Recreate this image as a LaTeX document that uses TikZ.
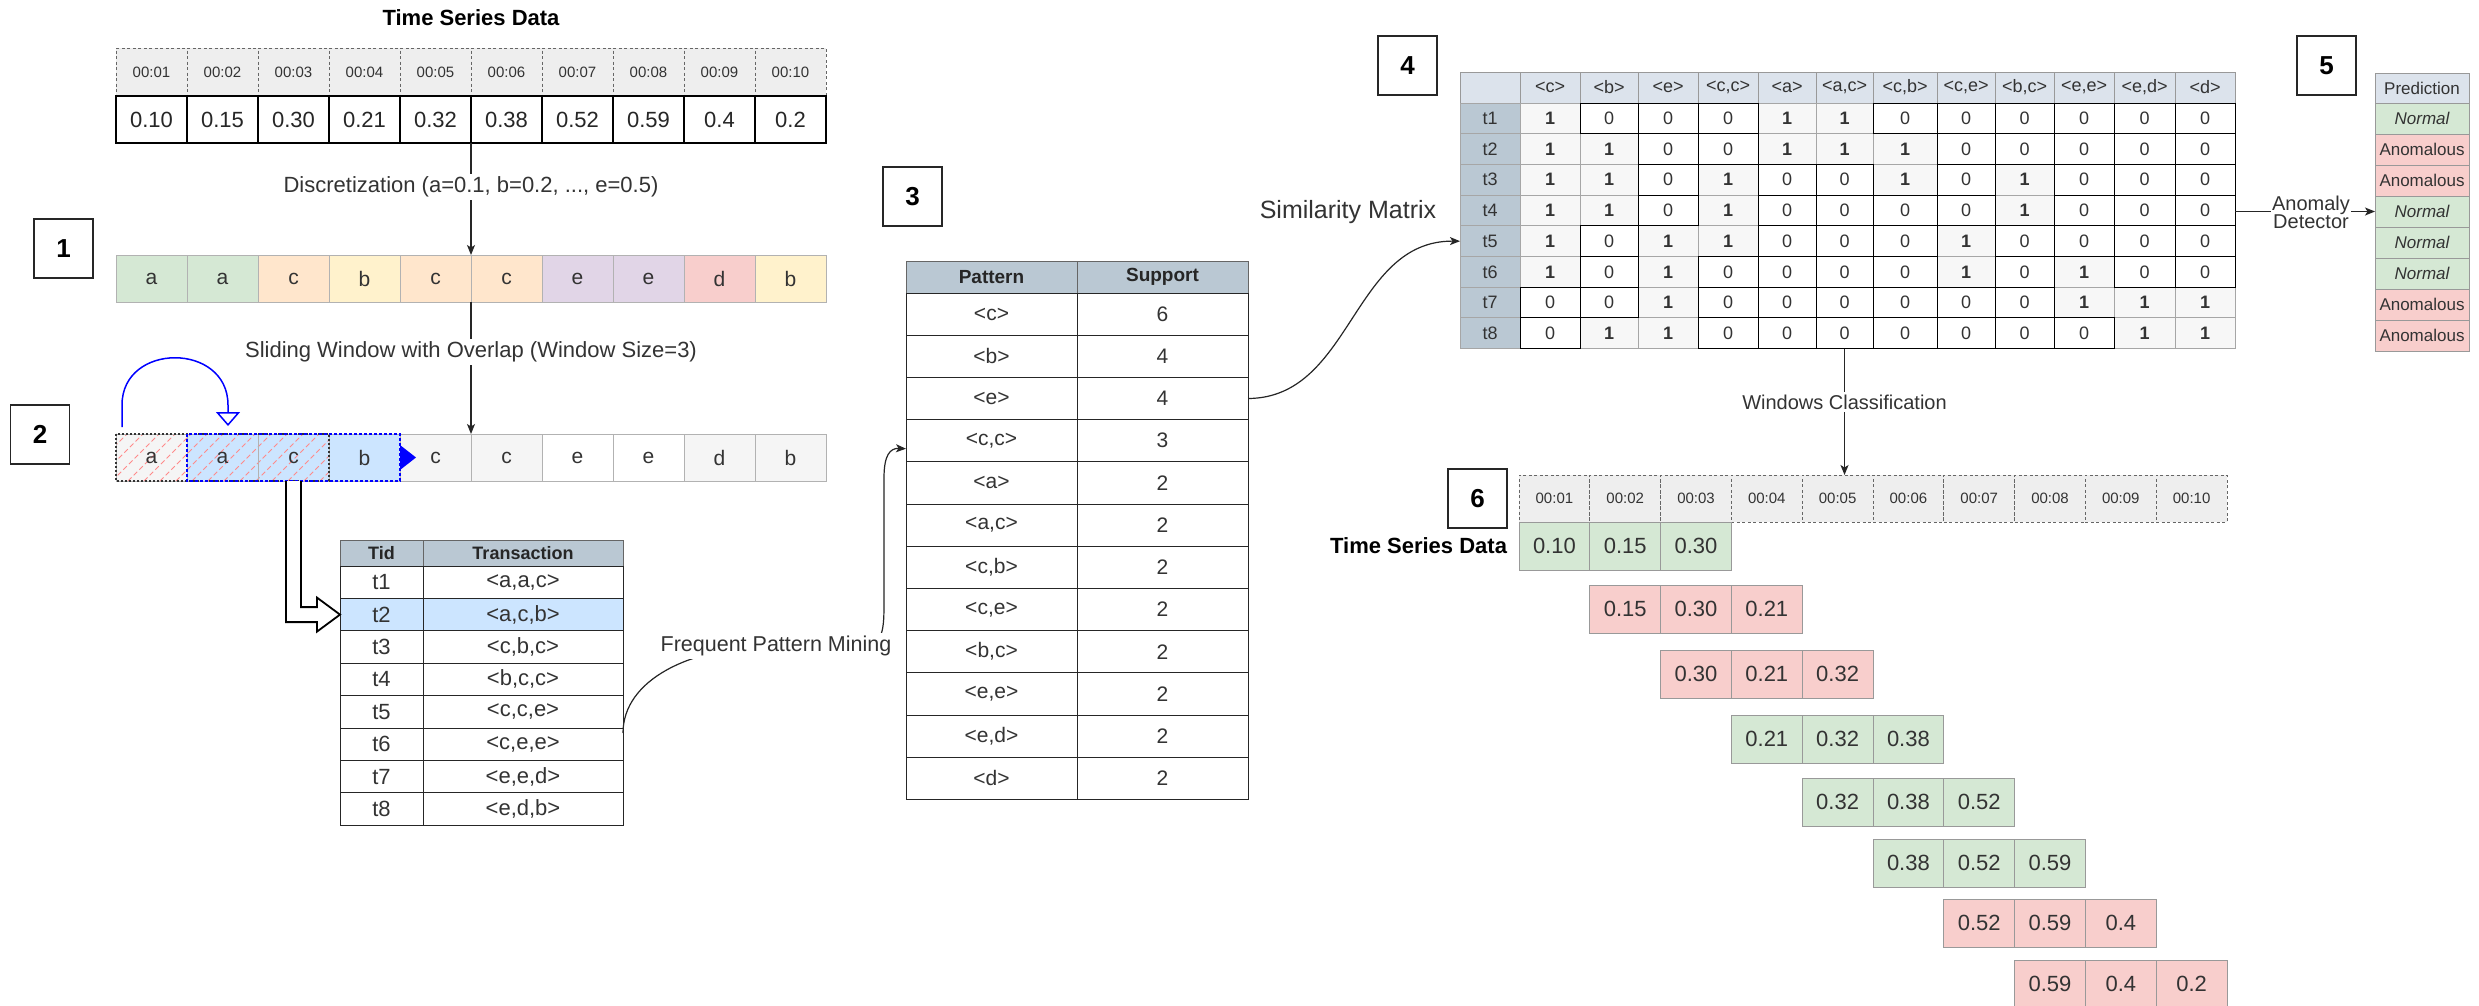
\documentclass[tikz,border=0pt]{standalone}
\usepackage{fontspec}
\setmainfont{Liberation Sans}
\usetikzlibrary{arrows.meta,calc}

\definecolor{hdrgray}{HTML}{EEEEEE}
\definecolor{tblhead}{HTML}{BAC8D3}
\definecolor{mxhead}{HTML}{DCE3EC}
\definecolor{gfill}{HTML}{D5E8D4}
\definecolor{rfill}{HTML}{F8CECC}
\definecolor{ofill}{HTML}{FFE6CC}
\definecolor{yfill}{HTML}{FFF2CC}
\definecolor{pfill}{HTML}{E1D5E7}
\definecolor{bfill}{HTML}{CCE5FF}
\definecolor{lgfill}{HTML}{F5F5F5}
\definecolor{txt}{HTML}{333333}
\definecolor{hatchred}{HTML}{FF8A8A}

\newcommand{\fsz}[1]{\fontsize{#1}{#1}\selectfont}
% left edges of the similarity matrix columns (row-header column first)
\def\colarr{{1460,1520,1580,1638,1698,1758,1816,1873,1937,1995,2054,2114,2175,2235}}

\begin{document}
\begin{tikzpicture}[x=1pt,y=-1pt,
  every node/.style={inner sep=0pt,outer sep=0pt},
  numbox/.style={draw=black!85,line width=1.5pt,fill=white,minimum width=59pt,minimum height=59pt,font=\bfseries\fsz{26}},
  tshead/.style={draw=black!60,dash pattern=on 3pt off 2.5pt,line width=1pt,fill=hdrgray,minimum width=70.8pt,minimum height=47pt,anchor=north west,font=\fsz{15},text=txt},
  tsval/.style={draw=black,line width=2pt,fill=white,minimum width=71pt,minimum height=47pt,anchor=north west,font=\fsz{22},text=black!85},
  symcell/.style={draw=black!30,line width=1pt,minimum width=71pt,minimum height=47pt,anchor=north west,font=\fsz{21},text=txt},
  conn/.style={draw=black!85,line width=1.2pt,-{Stealth[length=10pt,width=8pt,inset=2.5pt]}},
  elabel/.style={fill=white,inner sep=3pt,text=txt},
  tbh/.style={draw=black!60,fill=tblhead,line width=1pt,anchor=north west,font=\bfseries\fsz{18},text=black!85},
  tbc/.style={draw=black!85,line width=1pt,anchor=north west,font=\fsz{22},text=txt},
  ptc/.style={draw=black!85,fill=white,line width=1pt,anchor=north west,minimum width=171pt,minimum height=42.2pt,font=\fsz{21},text=txt},
  mxh/.style={draw=black!40,fill=mxhead,line width=1pt,anchor=north west,minimum height=31pt,font=\fsz{18},text=txt},
  mxrow/.style={draw=black!35,fill=tblhead,line width=1pt,anchor=north west,minimum width=60pt,minimum height=30.7pt,font=\fsz{18},text=txt},
  mxone/.style={draw=black!35,fill=black!3,line width=1pt,anchor=north west,minimum height=30.7pt,font=\bfseries\fsz{18},text=txt},
  mxzero/.style={draw=black,fill=white,line width=1pt,anchor=north west,minimum height=30.7pt,font=\fsz{18},text=txt},
  predc/.style={draw=black!40,line width=1pt,anchor=north west,minimum width=94pt,minimum height=31pt,font=\fsz{17},text=txt},
  wcell/.style={draw=black!40,line width=1pt,minimum width=70.8pt,minimum height=48pt,anchor=north west,font=\fsz{22},text=txt}
]
\fill[white] (0,0) rectangle (2479,1005);
\useasboundingbox (0,0) rectangle (2479,1005);

% ---------- raw time series ----------
\node[font=\bfseries\fsz{22}] (title) at (471,18) {Time Series Data};
\foreach \t [count=\i from 0] in {00:01,00:02,00:03,00:04,00:05,00:06,00:07,00:08,00:09,00:10}
  \node[tshead,minimum width=71pt,minimum height=48pt] (th\i) at ({116+71*\i},48) {\t};
\foreach \v [count=\i from 0] in {0.10,0.15,0.30,0.21,0.32,0.38,0.52,0.59,0.4,0.2}
  \node[tsval] (tv\i) at ({116+71*\i},96) {\v};

% ---------- 1: discretized symbols ----------
\node[numbox] (n1) at (63.5,248.5) {1};
\foreach \l/\f [count=\i from 0] in {a/gfill,a/gfill,c/ofill,b/yfill,c/ofill,c/ofill,e/pfill,e/pfill,d/rfill,b/yfill}
  \node[symcell,fill=\f] (ra\i) at ({116+71*\i},255) {\l};
\draw[conn] (tv5.south west) -- (ra5.north west);
\node[elabel,font=\fsz{22}] (disc) at (471,187) {Discretization (a=0.1, b=0.2, ..., e=0.5)};

% ---------- 2: sliding window ----------
\node[numbox] (n2) at (40,434.5) {2};
\foreach \f [count=\i from 0] in {lgfill,bfill,bfill,bfill,lgfill,lgfill,white,white,lgfill,lgfill}
  \fill[\f] ({116+71*\i},434) rectangle ++(71,47);
\begin{scope}
  \clip (116,434) rectangle (329,481);
  \foreach \s in {0,...,17}
    \draw[hatchred,line width=1pt,dash pattern=on 5pt off 3pt] ({80+16*\s},481) -- ++(47,-47);
\end{scope}
\foreach \l [count=\i from 0] in {a,a,c,b,c,c,e,e,d,b}
  \node[symcell] (rb\i) at ({116+71*\i},434) {\l};
\draw[black!80,line width=2pt,dash pattern=on 2pt off 2pt] (rb0.north west) rectangle (rb2.south east);
\draw[blue,line width=1.6pt,dash pattern=on 3pt off 2pt] (rb1.north west) rectangle (rb3.south east);
\fill[blue] ($(rb3.east)+(0,-12.5)$) -- ($(rb3.east)+(16,0)$) -- ($(rb3.east)+(0,12.5)$) -- cycle;
\coordinate (hopA) at (122,427);
\coordinate (hopB) at (228,426);
\draw[blue,line width=1.5pt,-{Triangle[open,fill=white,length=14pt,width=24pt]}]
  (hopA) -- (122,405) .. controls (122,342) and (228,342) .. (228,405) -- (hopB);
\draw[conn] (ra5.south west) -- (rb5.north west);
\node[elabel,font=\fsz{22}] (slide) at (471,352) {Sliding Window with Overlap (Window Size=3)};

% ---------- transactions ----------
\node[tbh,minimum width=83pt,minimum height=26pt] (tidh) at (340,540) {Tid};
\node[tbh,minimum width=200pt,minimum height=26pt] (trh) at (423,540) {Transaction};
\foreach \tr/\f [count=\i] in {{<a,a,c>}/white,{<a,c,b>}/bfill,{<c,b,c>}/white,{<b,c,c>}/white,{<c,c,e>}/white,{<c,e,e>}/white,{<e,e,d>}/white,{<e,d,b>}/white} {
  \node[tbc,fill=\f,minimum width=83pt,minimum height=32.4pt] (tid\i) at (340,{566+32.4*(\i-1)}) {t\i};
  \node[tbc,fill=\f,minimum width=200pt,minimum height=32.4pt] (tr\i) at (423,{566+32.4*(\i-1)}) {\tr};
}
% hollow arrow from the current window to its transaction
\draw[line width=1.8pt,fill=white,line join=miter]
  ($(rb2.south)+(-7.5,0)$) |- ($(tid2.west)+(-23,7.5)$) -- ($(tid2.west)+(-23,17)$)
  -- (tid2.west) -- ($(tid2.west)+(-23,-17)$) -- ($(tid2.west)+(-23,-7.5)$)
  -| ($(rb2.south)+(7.5,0)$);

% ---------- 3: frequent patterns ----------
\node[numbox] (n3) at (912.5,196.5) {3};
\node[tbh,minimum width=171pt,minimum height=32pt,font=\bfseries\fsz{19}] (pth) at (906,261) {Pattern};
\node[tbh,minimum width=171pt,minimum height=32pt,font=\bfseries\fsz{19}] (psh) at (1077,261) {Support};
\foreach \p/\s [count=\i] in {{<c>}/6,{<b>}/4,{<e>}/4,{<c,c>}/3,{<a>}/2,{<a,c>}/2,{<c,b>}/2,{<c,e>}/2,{<b,c>}/2,{<e,e>}/2,{<e,d>}/2,{<d>}/2} {
  \node[ptc] (pp\i) at (906,{293+42.2*(\i-1)}) {\p};
  \node[ptc] (ps\i) at (1077,{293+42.2*(\i-1)}) {\s};
}
\coordinate (fpsrc) at ($(tr6.north east)+(0,5)$);
\coordinate (fpmid) at (776,646);
\draw[conn] (fpsrc) .. controls (623,680) and (690,646) .. (fpmid) -- (860,646)
  .. controls (884,646) and (884,630) .. (884,600) -- (884,478)
  .. controls (884,455) and (890,448) .. ($(pp4.west)+(0,8)$);
\node[elabel,font=\fsz{21.5}] (fpm) at (fpmid) {Frequent Pattern Mining};

% ---------- 4: similarity matrix ----------
\node[numbox] (n4) at (1407.5,65.5) {4};
\node[mxh,minimum width=60pt] (mh0) at (1460,72) {};
\foreach \h [count=\cj] in {{<c>},{<b>},{<e>},{<c,c>},{<a>},{<a,c>},{<c,b>},{<c,e>},{<b,c>},{<e,e>},{<e,d>},{<d>}} {
  \pgfmathsetmacro\xa{\colarr[\cj]}
  \pgfmathsetmacro\xb{\colarr[\cj+1]}
  \node[mxh,minimum width={(\xb-\xa)*1pt}] (mh\cj) at (\xa,72) {\h};
}
\foreach \ri in {1,...,8}
  \node[mxrow] (mr\ri) at (1460,{103+30.7*(\ri-1)}) {t\ri};
\foreach \pass in {1,0} {
  \foreach \rowv [count=\ri] in {{1,0,0,0,1,1,0,0,0,0,0,0},{1,1,0,0,1,1,1,0,0,0,0,0},{1,1,0,1,0,0,1,0,1,0,0,0},{1,1,0,1,0,0,0,0,1,0,0,0},{1,0,1,1,0,0,0,1,0,0,0,0},{1,0,1,0,0,0,0,1,0,1,0,0},{0,0,1,0,0,0,0,0,0,1,1,1},{0,1,1,0,0,0,0,0,0,0,1,1}} {
    \foreach \v [count=\cj] in \rowv {
      \ifnum\v=\pass
        \pgfmathsetmacro\xa{\colarr[\cj]}
        \pgfmathsetmacro\xb{\colarr[\cj+1]}
        \pgfmathsetmacro\ya{103+30.7*(\ri-1)}
        \ifnum\v=1
          \node[mxone,minimum width={(\xb-\xa)*1pt}] (m\ri-\cj) at (\xa,\ya) {1};
        \else
          \node[mxzero,minimum width={(\xb-\xa)*1pt}] (m\ri-\cj) at (\xa,\ya) {0};
        \fi
      \fi
    }
  }
}
\draw[conn] (ps3.east) .. controls (1352,398) and (1352,240.5) .. (mr5.west);
\node[font=\fsz{25},text=txt] (simlab) at (1348,212) {Similarity Matrix};

% ---------- 5: predictions ----------
\node[numbox] (n5) at (2326.5,65.5) {5};
\node[predc,fill=mxhead,minimum height=30pt] (ph) at (2375,73) {Prediction};
\foreach \p/\f [count=\i] in {{\itshape Normal}/gfill,Anomalous/rfill,Anomalous/rfill,{\itshape Normal}/gfill,{\itshape Normal}/gfill,{\itshape Normal}/gfill,Anomalous/rfill,Anomalous/rfill}
  \node[predc,fill=\f] (pr\i) at (2375,{103+31*(\i-1)}) {\p};
\coordinate (mxE) at (m8-12.east |- pr4.west);
\draw[conn] (mxE) -- (pr4.west);
\node[elabel,font=\fontsize{20}{18}\selectfont,align=center,inner sep=1pt] (anom) at (2311,212) {Anomaly\\Detector};

% ---------- 6: windows on the time axis ----------
\node[numbox] (n6) at (1477.5,498.5) {6};
\foreach \t [count=\i from 0] in {00:01,00:02,00:03,00:04,00:05,00:06,00:07,00:08,00:09,00:10}
  \node[tshead] (sh\i) at ({1519+70.8*\i},475) {\t};
\node[font=\bfseries\fsz{22},anchor=east] (ts2) at (1507,546) {Time Series Data};
\foreach \va/\vb/\vc/\f/\yy [count=\k from 0] in {0.10/0.15/0.30/gfill/522,0.15/0.30/0.21/rfill/585,0.30/0.21/0.32/rfill/650,0.21/0.32/0.38/gfill/715,0.32/0.38/0.52/gfill/778,0.38/0.52/0.59/gfill/839,0.52/0.59/0.4/rfill/899,0.59/0.4/0.2/rfill/960} {
  \node[wcell,fill=\f] (w\k a) at ({1519+70.8*\k},\yy) {\va};
  \node[wcell,fill=\f] (w\k b) at ({1519+70.8*(\k+1)},\yy) {\vb};
  \node[wcell,fill=\f] (w\k c) at ({1519+70.8*(\k+2)},\yy) {\vc};
}
\draw[conn] (m8-6.south) -- (m8-6.south |- sh4.north);
\node[elabel,font=\fsz{20}] (wcl) at (m8-6.south |- 0,402) {Windows Classification};
\end{tikzpicture}
\end{document}
